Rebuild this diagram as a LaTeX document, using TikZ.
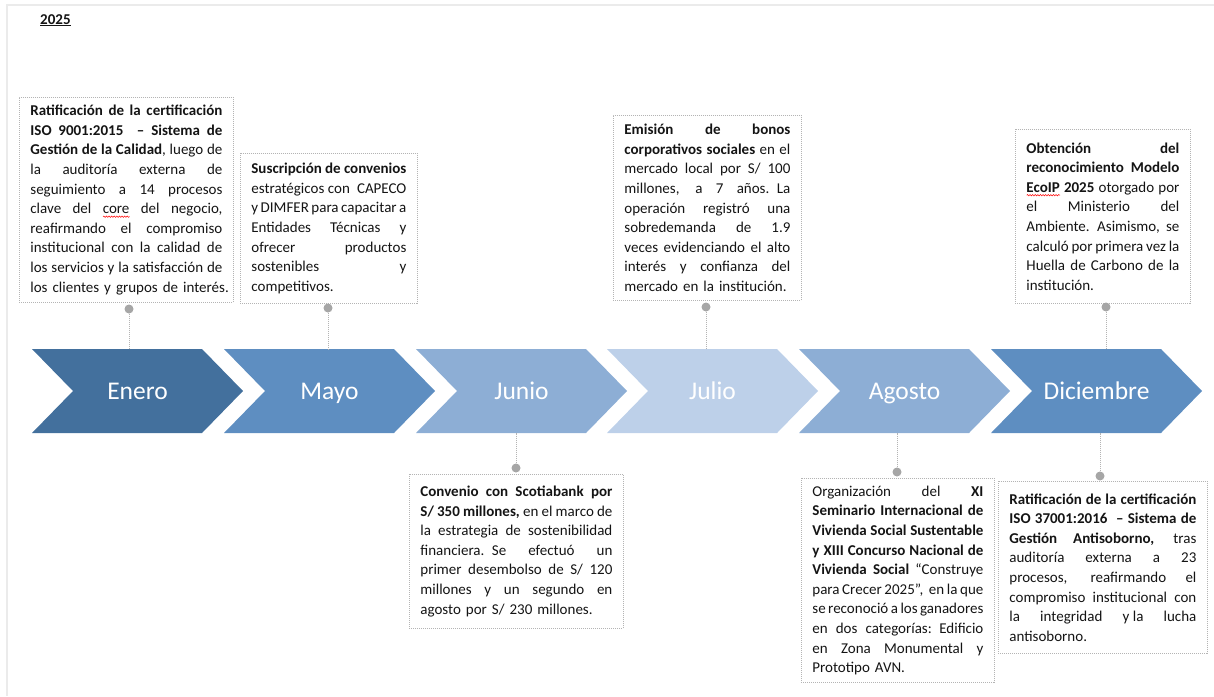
\documentclass[tikz,border=0pt]{standalone}
\usepackage{fontspec}
\usetikzlibrary{decorations.pathmorphing}
\setmainfont{Carlito}
\definecolor{cA}{RGB}{67,112,157}
\definecolor{cB}{RGB}{94,142,193}
\definecolor{cC}{RGB}{141,174,213}
\definecolor{cD}{RGB}{189,208,233}
\definecolor{dotgray}{RGB}{166,166,166}
\definecolor{linegray}{RGB}{180,180,180}
\definecolor{framegray}{RGB}{235,235,235}
\definecolor{txt}{RGB}{20,20,20}
\newlength\wavelen
\newcommand\redwave[1]{\settowidth\wavelen{#1}\rlap{\tikz[baseline=0pt,reset cm]\draw[red,line width=0.5pt,decorate,decoration={snake,amplitude=0.7pt,segment length=2.6pt}] (0pt,-3pt) -- (\wavelen,-3pt);}#1}
\newcommand\jline[1]{\leavevmode\hbox to\hsize{\spaceskip=0.226em plus 1fil minus 0.06em\relax #1}\par}
\newcommand\lline[1]{\leavevmode\hbox{#1}\par}
\tikzset{
  monthtext/.style={inner sep=0pt, minimum width=170pt, minimum height=84pt,
    text=white, font=\fontsize{25.5}{28}\selectfont, text height=16.5pt, text depth=0pt},
  evbox/.style={draw=linegray, dash pattern=on 1pt off 1pt, line width=0.8pt,
    anchor=north west, inner xsep=11pt, inner ysep=0pt, text=txt,
    font=\fontsize{15}{19.6}\selectfont},
  dotnode/.style={circle, fill=dotgray, inner sep=0pt, minimum size=9pt},
  conn/.style={draw=linegray, dash pattern=on 1pt off 1pt, line width=0.8pt},
}
\begin{document}
\begin{tikzpicture}[x=1pt,y=-1pt]
\useasboundingbox (0,0) rectangle (1214,696);
% page frame
\draw[framegray, line width=2pt] (7,696) -- (7,5) -- (1214,5);
\node[anchor=base west, inner sep=0pt, font=\fontsize{15}{18}\selectfont\bfseries, text=txt] (year) at (40,24) {\underline{2025}};
% chevrons
\foreach \i/\x/\lab/\col in {1/32/Enero/cA, 2/224/Mayo/cB, 3/416/Junio/cC, 4/607/Julio/cD, 5/799/Agosto/cC, 6/991/Diciembre/cB}{
  \fill[\col] (\x,349) -- ++(170,0) -- ++(41,42) -- ++(-41,42) -- ++(-170,0) -- ++(41,-42) -- cycle;
  \node[monthtext] (m\i) at (\x+105.5,391) {\lab};
}
% boxes above
\node[evbox, text width=192pt, minimum height=205pt] (b1) at (19,97) {%
\jline{\textbf{Ratificación de la certificación}}%
\jline{\textbf{ISO 9001:2015 \ – Sistema de}}%
\jline{\textbf{Gestión de la Calidad}, luego de}%
\jline{la auditoría externa de}%
\jline{seguimiento a 14 procesos}%
\jline{clave del \redwave{core} del negocio,}%
\jline{reafirmando el compromiso}%
\jline{institucional con la calidad de}%
\jline{los servicios y la satisfacción de}%
\lline{los clientes y grupos de interés.}};
\node[evbox, text width=155pt, minimum height=150pt] (b2) at (240,153) {%
\jline{\textbf{Suscripción de convenios}}%
\jline{estratégicos con \ CAPECO}%
\jline{y DIMFER para capacitar a}%
\jline{Entidades Técnicas y}%
\jline{ofrecer productos}%
\jline{sostenibles y}%
\lline{competitivos.}};
\node[evbox, text width=166pt, minimum height=185pt] (b3) at (613,115) {%
\jline{\textbf{Emisión de bonos}}%
\jline{\textbf{corporativos sociales} en el}%
\jline{mercado local por S/ 100}%
\jline{millones, a 7 años. La}%
\jline{operación registró una}%
\jline{sobredemanda de 1.9}%
\jline{veces evidenciando el alto}%
\jline{interés y confianza del}%
\lline{mercado en la institución.}};
\node[evbox, text width=153pt, minimum height=174pt] (b4) at (1015,129) {%
\jline{\textbf{Obtención del}}%
\jline{\textbf{reconocimiento Modelo}}%
\jline{\textbf{\redwave{EcoIP} 2025} otorgado por}%
\jline{el Ministerio del}%
\jline{Ambiente. Asimismo, se}%
\jline{calculó por primera vez la}%
\jline{Huella de Carbono de la}%
\lline{institución.}};
% boxes below
\node[evbox, text width=192pt, minimum height=154pt] (b5) at (409,474) {%
\jline{\textbf{Convenio con Scotiabank por}}%
\jline{\textbf{S/ 350 millones,} en el marco de}%
\jline{la estrategia de sostenibilidad}%
\jline{financiera. Se efectuó un}%
\jline{primer desembolso de S/ 120}%
\jline{millones y un segundo en}%
\lline{agosto por S/ 230 millones.}};
\node[evbox, text width=171pt, minimum height=204pt] (b6) at (801,478) {%
\jline{Organización del \textbf{XI}}%
\jline{\textbf{Seminario Internacional de}}%
\jline{\textbf{Vivienda Social Sustentable}}%
\jline{\textbf{y XIII Concurso Nacional de}}%
\jline{\textbf{Vivienda Social} “Construye}%
\jline{para Crecer 2025”, \ en la que}%
\jline{se reconoció a los ganadores}%
\jline{en dos categorías: Edificio}%
\jline{en Zona Monumental y}%
\lline{Prototipo AVN.}};
\node[evbox, text width=187pt, minimum height=172pt] (b7) at (998,481) {%
\jline{\textbf{Ratificación de la certificación}}%
\jline{\textbf{ISO 37001:2016 \ – Sistema de}}%
\jline{\textbf{Gestión Antisoborno,} tras}%
\jline{auditoría externa a 23}%
\jline{procesos, reafirmando el}%
\jline{compromiso institucional con}%
\jline{la integridad \mbox{y la} lucha}%
\lline{antisoborno.}};
% dots
\node[dotnode] (d1) at (129,309) {};
\node[dotnode] (d2) at (328,308) {};
\node[dotnode] (d3) at (706,307) {};
\node[dotnode] (d4) at (1106,307) {};
\node[dotnode] (d5) at (516,468) {};
\node[dotnode] (d6) at (897,472) {};
\node[dotnode] (d7) at (1100,476) {};
% connectors
\draw[conn] (d1) -- (d1 |- m1.north);
\draw[conn] (d2) -- (d2 |- m2.north);
\draw[conn] (d3) -- (d3 |- m4.north);
\draw[conn] (d4) -- (d4 |- m6.north);
\draw[conn] (d5) -- (d5 |- m3.south);
\draw[conn] (d6) -- (d6 |- m5.south);
\draw[conn] (d7) -- (d7 |- m6.south);
\end{tikzpicture}
\end{document}
